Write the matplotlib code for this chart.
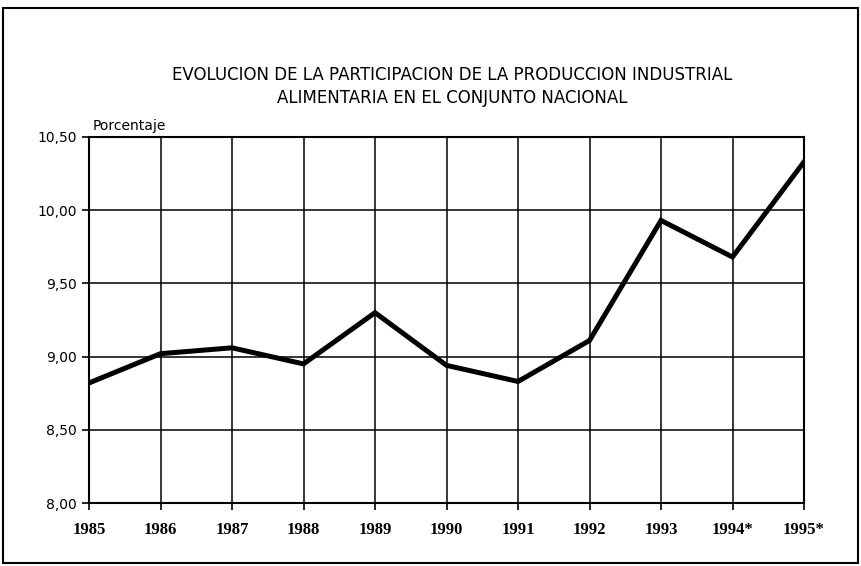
import matplotlib
matplotlib.use("Agg")
import matplotlib.pyplot as plt
from matplotlib.patches import Rectangle

years = ["1985", "1986", "1987", "1988", "1989", "1990", "1991", "1992", "1993", "1994*", "1995*"]
valores = [8.82, 9.02, 9.06, 8.95, 9.30, 8.94, 8.83, 9.11, 9.93, 9.68, 10.33]
y_ticks = [8.0, 8.5, 9.0, 9.5, 10.0, 10.5]
y_labels = ["8,00", "8,50", "9,00", "9,50", "10,00", "10,50"]

fig = plt.figure(figsize=(8.61, 5.66), dpi=100)
ax = fig.add_axes([0.1034, 0.1113, 0.8304, 0.6467])

x = list(range(len(years)))
ax.plot(x, valores, color='black', linewidth=3.6, solid_joinstyle='miter', zorder=3)

ax.set_xlim(0, len(years) - 1)
ax.set_ylim(8.0, 10.5)
ax.set_xticks(x)
ax.set_xticklabels(years, family='Liberation Serif', fontweight='bold', fontsize=12)
ax.set_yticks(y_ticks)
ax.set_yticklabels(y_labels, family='DejaVu Sans', fontsize=10)
ax.tick_params(axis='both', direction='out', length=5, width=1.2, color='black')
ax.tick_params(axis='x', pad=9)
ax.tick_params(axis='y', pad=4)
ax.grid(True, color='black', linewidth=1.1)
for s in ax.spines.values():
    s.set_linewidth(1.5)

fig.text(0.525, 0.868, "EVOLUCION DE LA PARTICIPACION DE LA PRODUCCION INDUSTRIAL",
         ha='center', va='center', fontsize=12, family='DejaVu Sans')
fig.text(0.525, 0.827, "ALIMENTARIA EN EL CONJUNTO NACIONAL",
         ha='center', va='center', fontsize=12, family='DejaVu Sans')
fig.text(0.107, 0.777, "Porcentaje", ha='left', va='center', fontsize=10, family='DejaVu Sans')

# marco exterior
fig.patches.append(Rectangle((0.004, 0.005), 0.992, 0.98, transform=fig.transFigure,
                             fill=False, edgecolor='black', linewidth=1.5))

plt.savefig("out.png", dpi=100)
